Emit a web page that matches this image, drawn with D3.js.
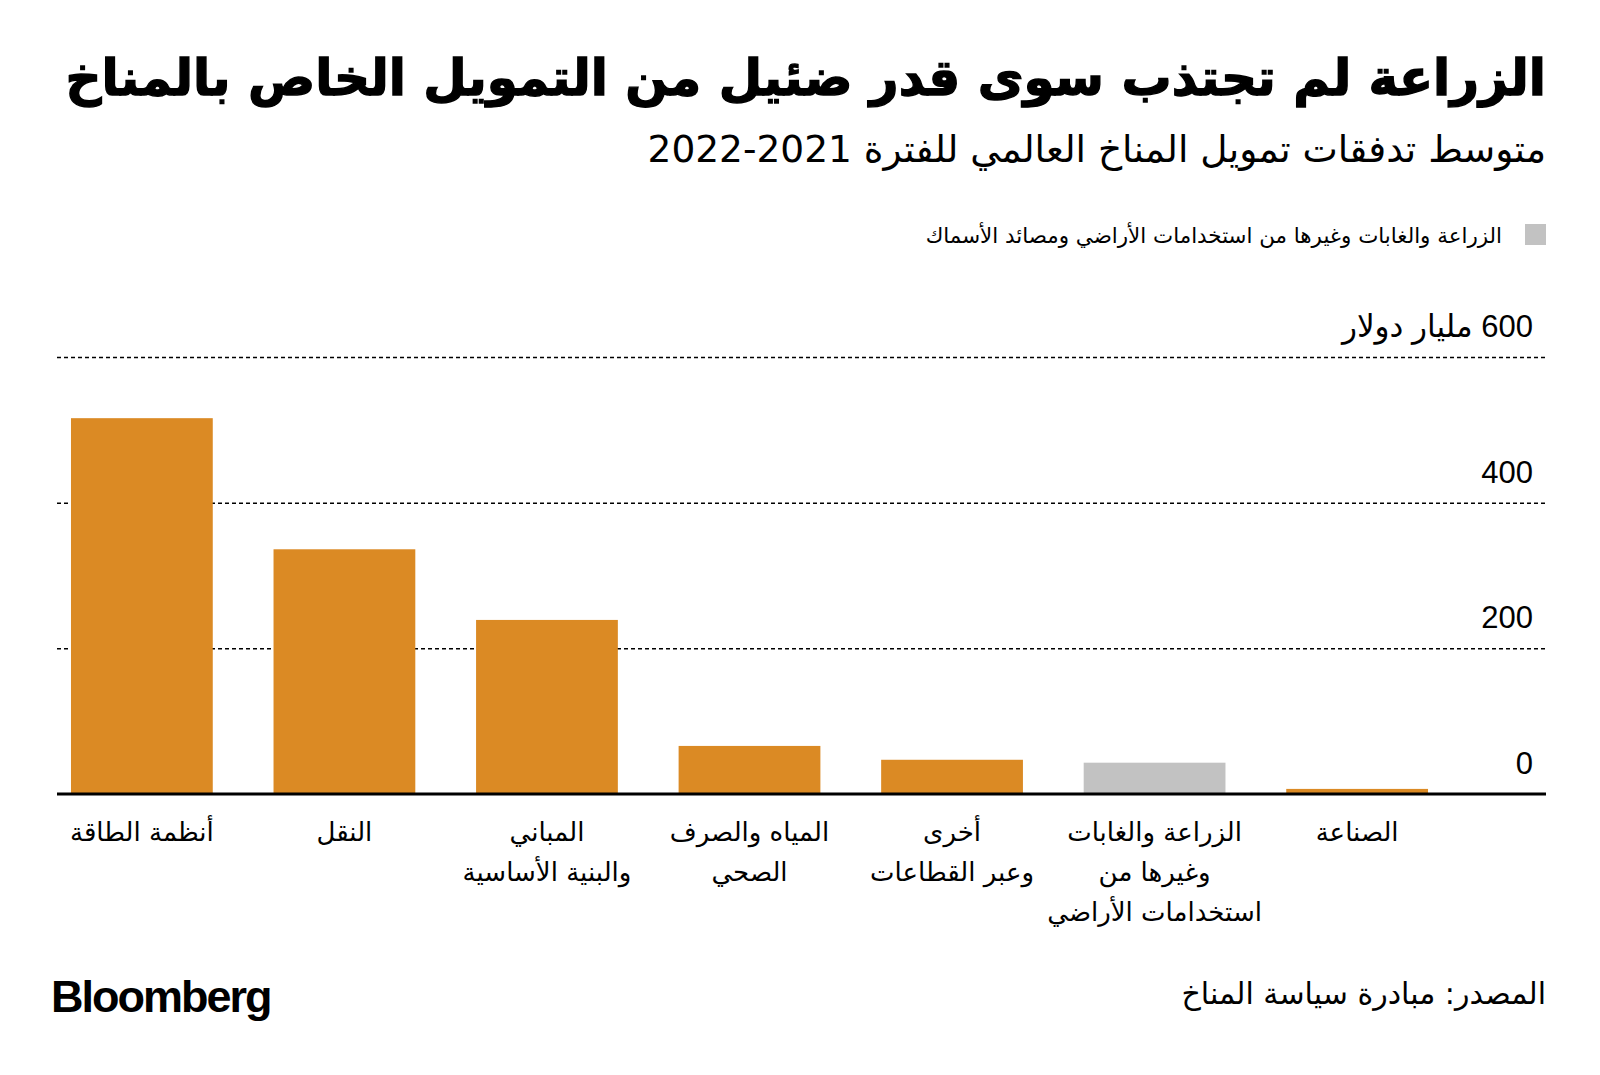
<!DOCTYPE html>
<html><head><meta charset="utf-8">
<script src="https://cdn.jsdelivr.net/npm/d3@7"></script>
<style>body{margin:0;background:#fff;} svg{display:block;}</style>
</head><body><svg id="c" width="1600" height="1075"></svg>
<script>
const categories = ["أنظمة الطاقة","النقل","المباني\nوالبنية الأساسية","المياه والصرف\nالصحي","أخرى\nوعبر القطاعات","الزراعة والغابات\nوغيرها من\nاستخدامات الأراضي","الصناعة"];
const values = [516, 336, 239, 66, 47, 43, 7];
const highlighted = [false, false, false, false, false, true, false];
const yTicks = [0, 200, 400, 600];
const yTickLabels = ["0", "200", "400", "600 مليار دولار"];
const titleText = "الزراعة لم تجتذب سوى قدر ضئيل من التمويل الخاص بالمناخ";
const subtitleText = "متوسط تدفقات تمويل المناخ العالمي للفترة 2021-2022";
const legendText = "الزراعة والغابات وغيرها من استخدامات الأراضي ومصائد الأسماك";
const sourceText = "المصدر: مبادرة سياسة المناخ";

const ORANGE = "#DB8A24", GRAY = "#C2C2C2";
const AR = "'DejaVu Sans', sans-serif";
const svg = d3.select("#c");
const R = 1546, L = 57;

// Title
svg.append("text").attr("x", R).attr("y", 95)
  .attr("direction", "rtl").attr("text-anchor", "start")
  .style("font-family", AR).style("font-weight", "bold").style("font-size", "50px")
  .attr("fill", "#000").attr("stroke", "#000").attr("stroke-width", 1.4).text(titleText);
svg.append("text").attr("x", R).attr("y", 162)
  .attr("direction", "rtl").attr("text-anchor", "start")
  .style("font-family", AR).style("font-size", "37.5px").attr("fill", "#000").text(subtitleText);

// Legend
svg.append("rect").attr("x", 1525).attr("y", 224).attr("width", 21).attr("height", 21).attr("fill", GRAY);
svg.append("text").attr("x", 1502).attr("y", 243)
  .attr("direction", "rtl").attr("text-anchor", "start")
  .style("font-family", AR).style("font-size", "21.4px").attr("fill", "#000").text(legendText);

// Scales
const y = d3.scaleLinear().domain([0, 600]).range([794, 357]);
const x = d3.scaleBand().domain(categories).range([40.6, 1458.4]).paddingInner(0.3).paddingOuter(0.15);

// Grid via axis
const gAxis = svg.append("g").attr("transform", `translate(${L},0)`)
  .call(d3.axisRight(y).tickValues(yTicks.filter(v => v > 0)).tickSize(R - L).tickFormat(""));
gAxis.select(".domain").remove();
gAxis.selectAll(".tick line").attr("stroke", "#000").attr("stroke-width", 1.5).attr("stroke-dasharray", "4,3");

// Bars
svg.append("g").selectAll("rect").data(categories).join("rect")
  .attr("x", d => x(d)).attr("width", x.bandwidth())
  .attr("y", (d, i) => y(values[i])).attr("height", (d, i) => y(0) - y(values[i]))
  .attr("fill", (d, i) => highlighted[i] ? GRAY : ORANGE);

// Baseline
svg.append("line").attr("x1", L).attr("x2", R).attr("y1", y(0)).attr("y2", y(0))
  .attr("stroke", "#000").attr("stroke-width", 3);

// Y labels
svg.append("g").selectAll("text").data(yTicks).join("text")
  .attr("x", 1533).attr("y", d => y(d) - 20)
  .attr("direction", "rtl").attr("text-anchor", "start")
  .style("font-family", "'Liberation Sans', 'DejaVu Sans', sans-serif").style("font-size", "31px")
  .attr("fill", "#000").text((d, i) => yTickLabels[i]);

// X labels via axis
const xAxis = svg.append("g").attr("transform", `translate(0,${y(0)})`)
  .call(d3.axisBottom(x).tickSize(0).tickFormat(""));
xAxis.select(".domain").remove();
xAxis.selectAll(".tick").each(function(d) {
  const lines = d.split("\n");
  const tx = d3.select(this).append("text").attr("fill", "#000")
    .attr("text-anchor", "middle").style("font-family", AR).style("font-size", "26px");
  lines.forEach((ln, j) => {
    tx.append("tspan").attr("x", 0).attr("y", 47 + j * 40).text(ln);
  });
});

// Footer
svg.append("text").attr("x", 51).attr("y", 1012)
  .style("font-family", "'Liberation Sans', Arial, sans-serif").style("font-weight", "bold")
  .style("font-size", "45px").style("letter-spacing", "-2px").attr("fill", "#000").text("Bloomberg");
svg.append("text").attr("x", R).attr("y", 1004)
  .attr("direction", "rtl").attr("text-anchor", "start")
  .style("font-family", AR).style("font-size", "30px").attr("fill", "#000").text(sourceText);
</script></body></html>
